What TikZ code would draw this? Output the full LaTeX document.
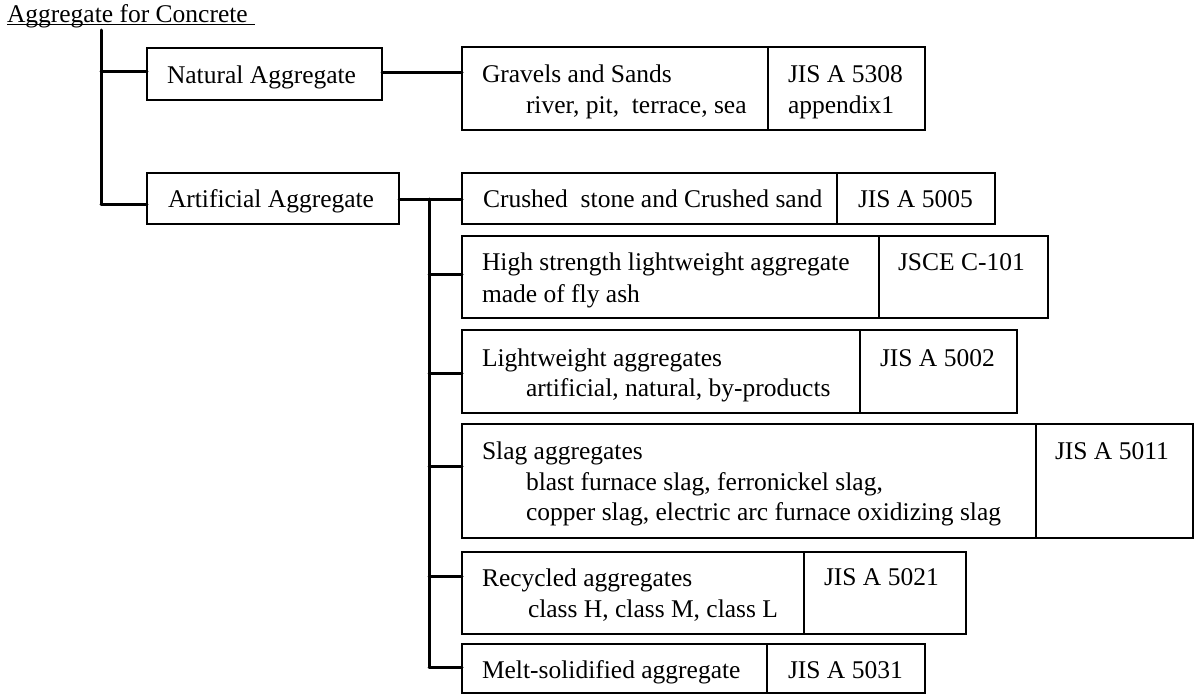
\documentclass[tikz,border=0pt]{standalone}
\usepackage{fontspec}
\setmainfont{Liberation Serif}
\begin{document}
\begin{tikzpicture}[x=1pt,y=-1pt,
  txt/.style={inner sep=0pt, outer sep=0pt, anchor=base west, font=\fontsize{25.5}{31}\selectfont},
  cell/.style={draw, line width=1.4pt, inner sep=0pt, outer sep=0pt, anchor=north west},
  conn/.style={line width=3pt, line cap=round}]
\useasboundingbox (0,0) rectangle (1197,696);

% title
\node[txt] (title) at (7,22) {Aggregate for Concrete};
\draw[line width=1.2pt] ([yshift=-2.6pt]title.base west) -- ++(248,0);

% first level
\node[cell, minimum width=235pt, minimum height=52pt] (nat) at (147,48) {};
\node[txt] at (167,83) {Natural Aggregate};
\node[cell, minimum width=252pt, minimum height=51pt] (art) at (147,173) {};
\node[txt] at (168,207) {Artificial Aggregate};

% second level boxes: text cell + standard cell
\node[cell, minimum width=306pt, minimum height=83pt] (grav) at (462,47) {};
\node[cell, minimum width=157pt, minimum height=83pt] (gravj) at (768,47) {};
\node[txt] at (482,82) {Gravels and Sands};
\node[txt] at (526,113) {river, pit,\ \ terrace, sea};
\node[txt] at (788,82) {JIS A 5308};
\node[txt] at (788,113) {appendix1};

\node[cell, minimum width=375pt, minimum height=51pt] (cr) at (462,173) {};
\node[cell, minimum width=158pt, minimum height=51pt] (crj) at (837,173) {};
\node[txt] at (483,207) {Crushed\ \ stone and Crushed sand};
\node[txt] at (858,207) {JIS A 5005};

\node[cell, minimum width=417pt, minimum height=82pt] (hs) at (462,236) {};
\node[cell, minimum width=169pt, minimum height=82pt] (hsj) at (879,236) {};
\node[txt] at (482,270) {High strength lightweight aggregate};
\node[txt] at (482,302) {made of fly ash};
\node[txt] at (898,270) {JSCE C-101};

\node[cell, minimum width=398pt, minimum height=83pt] (lw) at (462,330) {};
\node[cell, minimum width=157pt, minimum height=83pt] (lwj) at (860,330) {};
\node[txt] at (482,366) {Lightweight aggregates};
\node[txt] at (526,396) {artificial, natural, by-products};
\node[txt] at (880,366) {JIS A 5002};

\node[cell, minimum width=574pt, minimum height=114pt] (sl) at (462,424) {};
\node[cell, minimum width=157pt, minimum height=114pt] (slj) at (1036,424) {};
\node[txt] at (482,459) {Slag aggregates};
\node[txt] at (526,490) {blast furnace slag, ferronickel slag,};
\node[txt] at (526,520) {copper slag, electric arc furnace oxidizing slag};
\node[txt] at (1055,459) {JIS A 5011};

\node[cell, minimum width=342pt, minimum height=82pt] (rc) at (462,552) {};
\node[cell, minimum width=162pt, minimum height=82pt] (rcj) at (804,552) {};
\node[txt] at (482,586) {Recycled aggregates};
\node[txt] at (528,617) {class H, class M, class L};
\node[txt] at (824,585) {JIS A 5021};

\node[cell, minimum width=305pt, minimum height=49pt] (ml) at (462,644) {};
\node[cell, minimum width=158pt, minimum height=49pt] (mlj) at (767,644) {};
\node[txt] at (482,678) {Melt-solidified aggregate};
\node[txt] at (788,678) {JIS A 5031};

% trunk
\coordinate (t0) at (101,30);
\coordinate (t1) at (101,71);
\coordinate (t2) at (101,204);
\draw[conn] (t0) -- (t2);
\draw[conn] (t1) -- (t1 -| nat.west);
\draw[conn] (t2) -- (t2 -| art.west);

% natural -> gravels
\coordinate (n1) at (382,72);
\draw[conn] (n1) -- (n1 -| grav.west);

% artificial branch
\coordinate (s0) at (429,199);
\coordinate (s1) at (429,274);
\coordinate (s2) at (429,373);
\coordinate (s3) at (429,466);
\coordinate (s4) at (429,576);
\coordinate (s5) at (429,667);
\draw[conn] (s0 -| art.east) -- (s0 -| cr.west);
\draw[conn] (s0) -- (s5);
\draw[conn] (s1) -- (s1 -| hs.west);
\draw[conn] (s2) -- (s2 -| lw.west);
\draw[conn] (s3) -- (s3 -| sl.west);
\draw[conn] (s4) -- (s4 -| rc.west);
\draw[conn] (s5) -- (s5 -| ml.west);
\end{tikzpicture}
\end{document}
